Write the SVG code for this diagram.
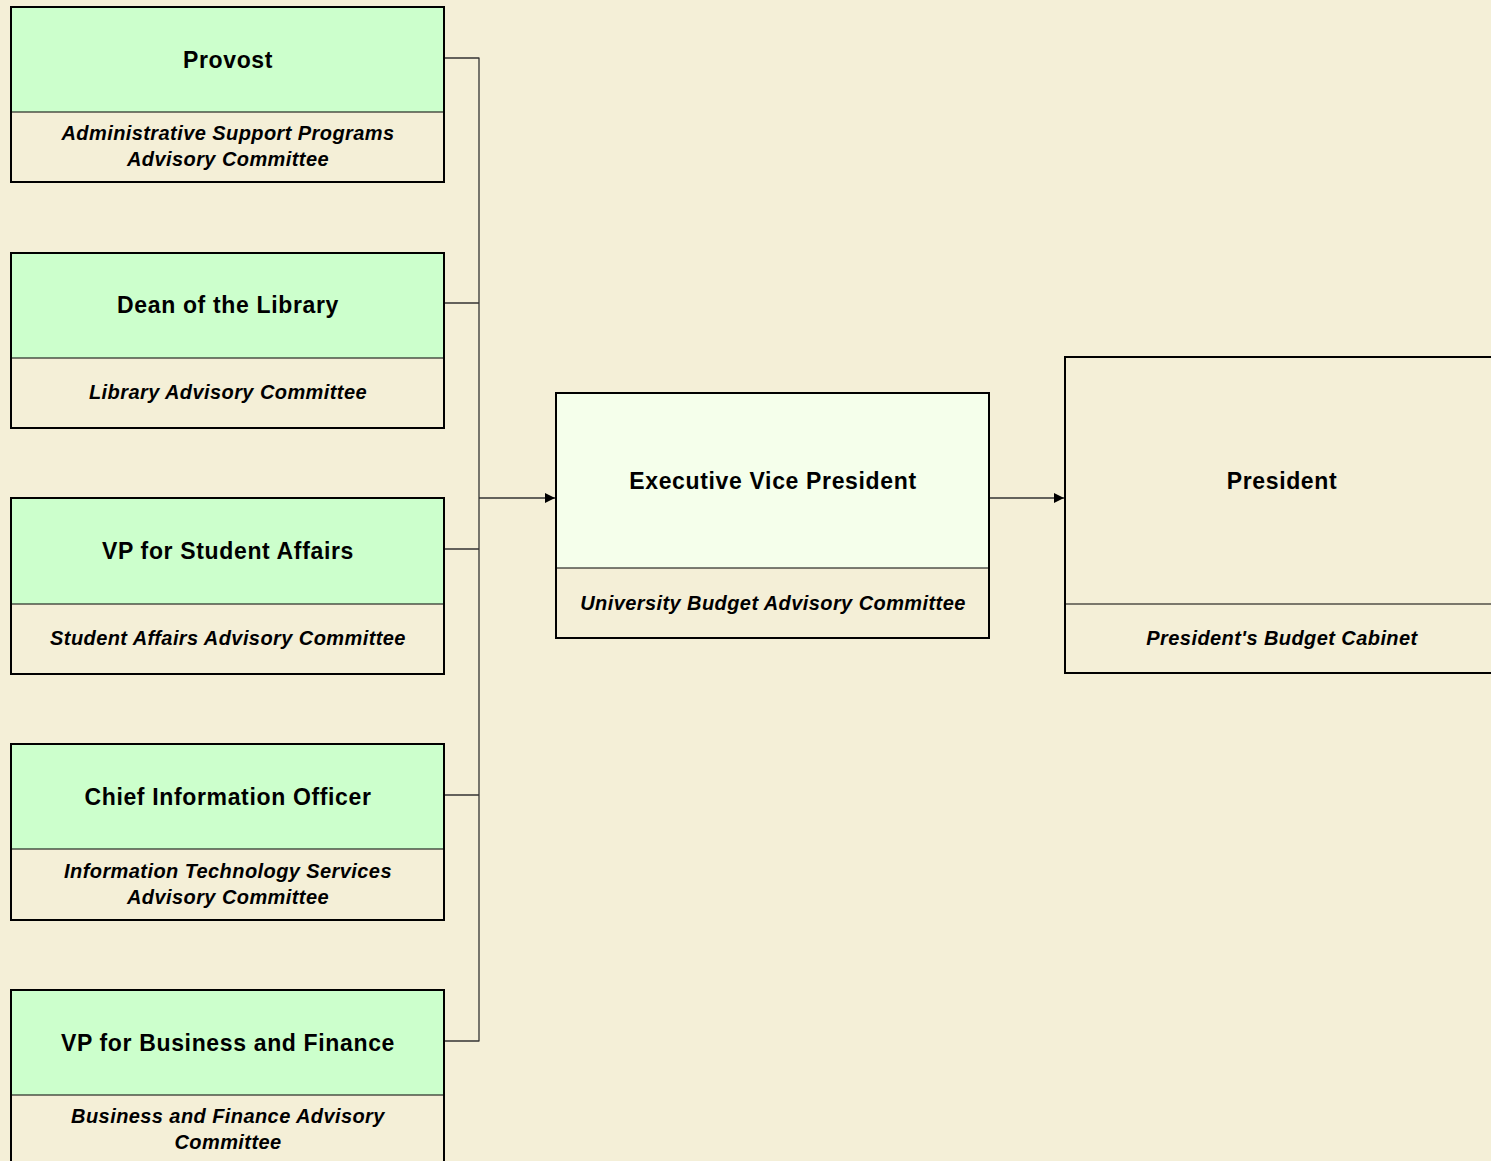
<svg xmlns="http://www.w3.org/2000/svg" width="1491" height="1161" viewBox="0 0 1491 1161">
<style>
.bg{fill:#F4EFD7}
.box{stroke:#000;stroke-width:2}
.div{stroke:#000;stroke-width:1.2}
.t{font-family:"Liberation Sans",Arial,sans-serif;font-weight:bold;font-size:23px;letter-spacing:0.65px;fill:#000;text-anchor:middle}
.s{font-family:"Liberation Sans",Arial,sans-serif;font-weight:bold;font-style:italic;font-size:20px;letter-spacing:0.42px;fill:#000;text-anchor:middle}
.c{stroke:#333;stroke-width:1.3;fill:none}
</style>
<defs>
<marker id="arr" viewBox="0 0 10 10" refX="10" refY="5" markerWidth="10" markerHeight="10" markerUnits="userSpaceOnUse" orient="auto">
<path d="M0,0 L10,5 L0,10 z" fill="#000"/>
</marker>
</defs>
<rect class="bg" x="0" y="0" width="1491" height="1161"/>
<g id="connectors">
<path class="c" d="M444,58 H479 M444,303 H479 M444,549 H479 M444,795 H479 M444,1041 H479 M479,57.5 V1041.5"/>
<path class="c" d="M479,498 H555" marker-end="url(#arr)"/>
<path class="c" d="M989,498 H1064" marker-end="url(#arr)"/>
</g>
<g id="provost">
<rect x="11" y="7" width="433" height="105" fill="#CCFFCC"/>
<rect x="11" y="112" width="433" height="70" fill="#F4EFD7"/>
<line class="div" x1="11" y1="112" x2="444" y2="112"/>
<rect class="box" x="11" y="7" width="433" height="175" fill="none"/>
<text class="t" x="228" y="68">Provost</text>
<text class="s" x="228" y="140">Administrative Support Programs</text>
<text class="s" x="228" y="166">Advisory Committee</text>
</g>
<g id="dean">
<rect x="11" y="253" width="433" height="105" fill="#CCFFCC"/>
<rect x="11" y="358" width="433" height="70" fill="#F4EFD7"/>
<line class="div" x1="11" y1="358" x2="444" y2="358"/>
<rect class="box" x="11" y="253" width="433" height="175" fill="none"/>
<text class="t" x="228" y="313">Dean of the Library</text>
<text class="s" x="228" y="399">Library Advisory Committee</text>
</g>
<g id="vpsa">
<rect x="11" y="498" width="433" height="106" fill="#CCFFCC"/>
<rect x="11" y="604" width="433" height="70" fill="#F4EFD7"/>
<line class="div" x1="11" y1="604" x2="444" y2="604"/>
<rect class="box" x="11" y="498" width="433" height="176" fill="none"/>
<text class="t" x="228" y="559">VP for Student Affairs</text>
<text class="s" x="228" y="645">Student Affairs Advisory Committee</text>
</g>
<g id="cio">
<rect x="11" y="744" width="433" height="105" fill="#CCFFCC"/>
<rect x="11" y="849" width="433" height="71" fill="#F4EFD7"/>
<line class="div" x1="11" y1="849" x2="444" y2="849"/>
<rect class="box" x="11" y="744" width="433" height="176" fill="none"/>
<text class="t" x="228" y="805">Chief Information Officer</text>
<text class="s" x="228" y="878">Information Technology Services</text>
<text class="s" x="228" y="904">Advisory Committee</text>
</g>
<g id="vpbf">
<rect x="11" y="990" width="433" height="105" fill="#CCFFCC"/>
<rect x="11" y="1095" width="433" height="71" fill="#F4EFD7"/>
<line class="div" x1="11" y1="1095" x2="444" y2="1095"/>
<rect class="box" x="11" y="990" width="433" height="176" fill="none"/>
<text class="t" x="228" y="1051">VP for Business and Finance</text>
<text class="s" x="228" y="1123">Business and Finance Advisory</text>
<text class="s" x="228" y="1149">Committee</text>
</g>
<g id="evp">
<rect x="556" y="393" width="433" height="175" fill="#F5FFEB"/>
<rect x="556" y="568" width="433" height="70" fill="#F4EFD7"/>
<line class="div" x1="556" y1="568" x2="989" y2="568"/>
<rect class="box" x="556" y="393" width="433" height="245" fill="none"/>
<text class="t" x="773" y="489">Executive Vice President</text>
<text class="s" x="773" y="610">University Budget Advisory Committee</text>
</g>
<g id="president">
<rect x="1065" y="357" width="433" height="316" fill="#F4EFD7"/>
<line class="div" x1="1065" y1="604" x2="1498" y2="604"/>
<rect class="box" x="1065" y="357" width="433" height="316" fill="none"/>
<text class="t" x="1282" y="489">President</text>
<text class="s" x="1282" y="645">President's Budget Cabinet</text>
</g>
</svg>
